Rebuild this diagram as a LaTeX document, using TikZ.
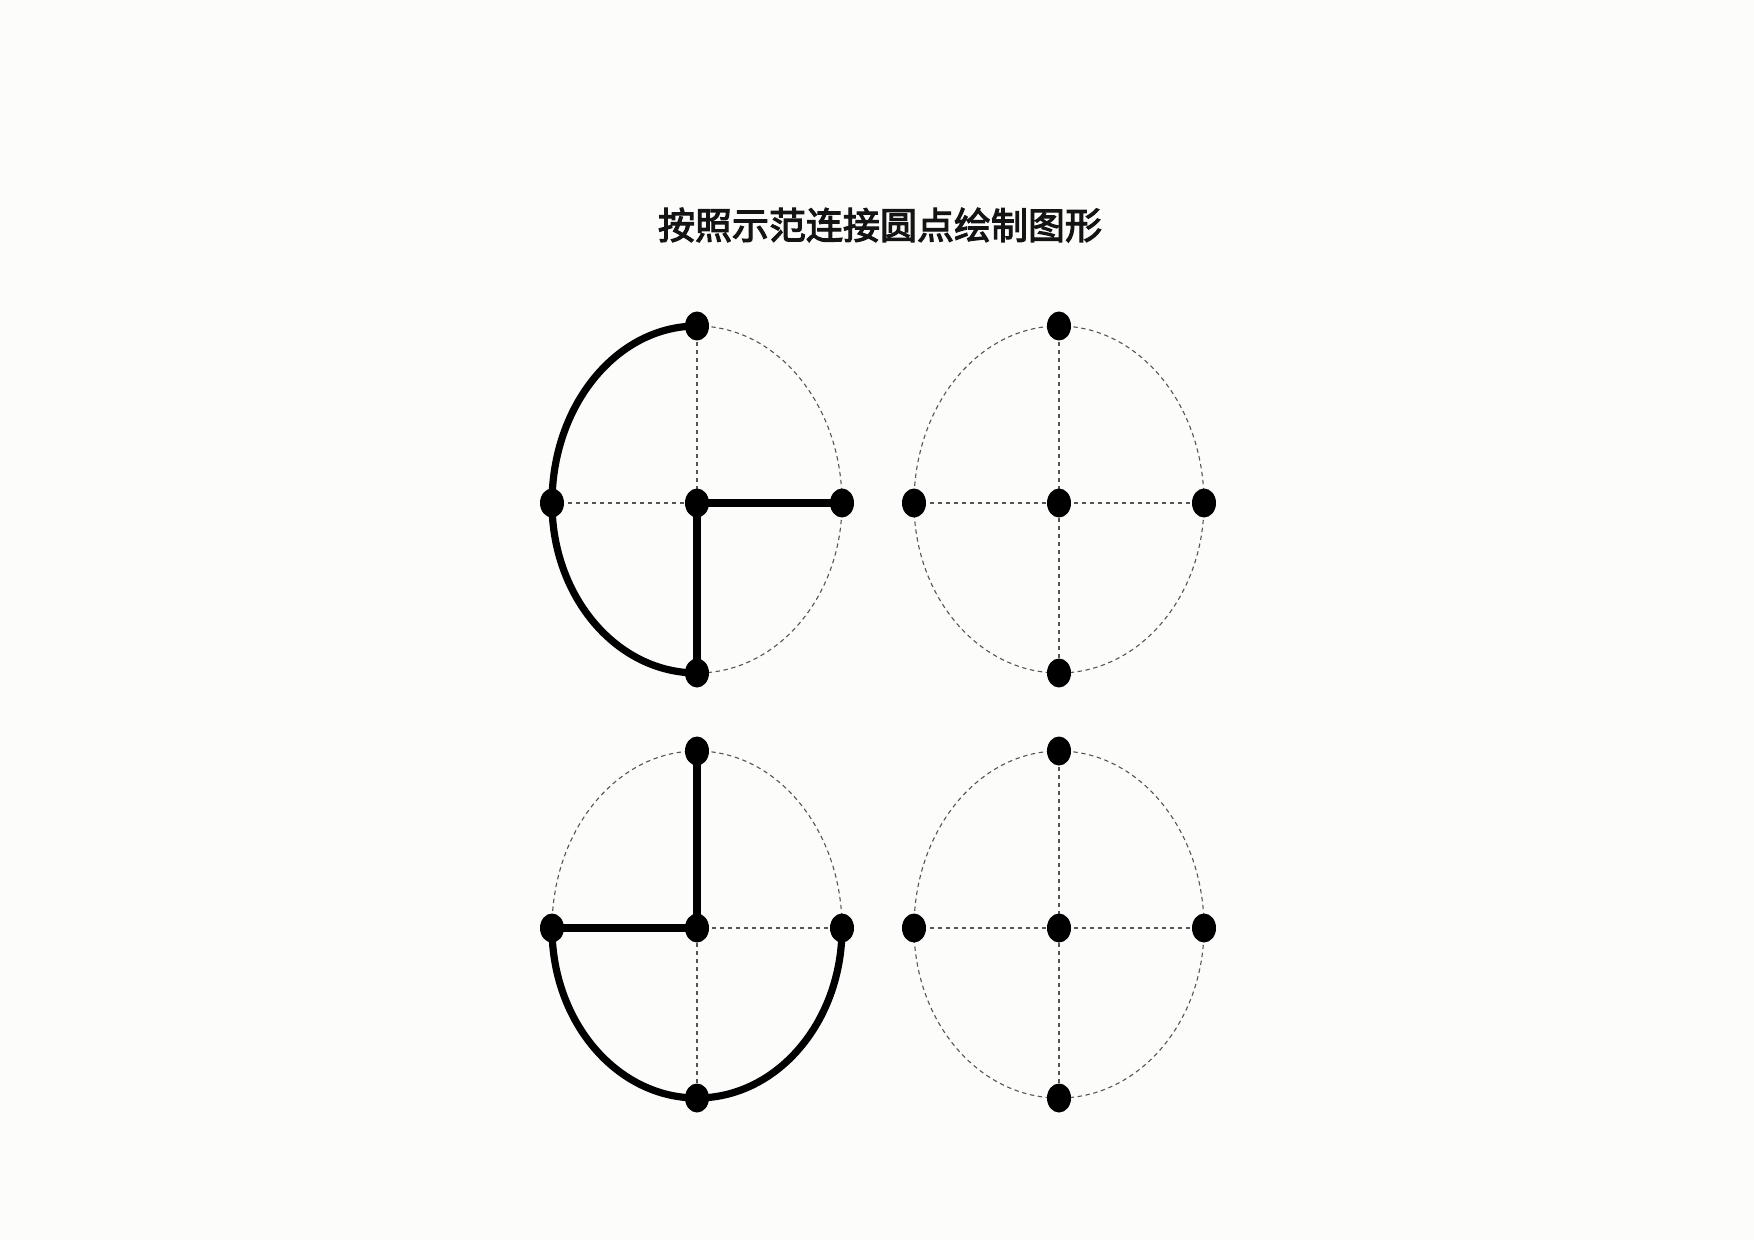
\documentclass[tikz,border=0pt]{standalone}
\usepackage{fontspec}
\usetikzlibrary{shapes.geometric}
\newfontfamily\cjk{Noto Sans CJK SC}[FakeBold=3]
\definecolor{paper}{RGB}{252,252,250}
\definecolor{guidegray}{RGB}{85,85,85}
\definecolor{titleink}{RGB}{20,20,20}
\pgfdeclarelayer{paperlayer}
\pgfdeclarelayer{linelayer}
\pgfsetlayers{paperlayer,linelayer,main}
\begin{document}
\begin{tikzpicture}[x=0.5pt,y=-0.5pt,
  dot/.style={ellipse,fill=black,inner sep=0pt,minimum width=12pt,minimum height=14.5pt},
  guide/.style={draw=guidegray,line width=0.55pt,dash pattern=on 2.2pt off 1.8pt},
  heavy/.style={draw=black,line width=3.6pt,line join=round},
  titlefont/.style={font=\cjk\fontsize{18.5pt}{22pt}\selectfont,text=titleink}]
\useasboundingbox (0,0) rectangle (1754,1240);
\begin{pgfonlayer}{paperlayer}
  \fill[paper] (0,0) rectangle (1754,1240);
\end{pgfonlayer}

\node[titlefont,inner sep=0pt] (title) at (880,225) {按照示范连接圆点绘制图形};

% dots (named nodes)
\foreach \n/\cx/\cy in {A/697/503, B/1059/503, C/697/928, D/1059/928} {
  \node[dot] (\n-c) at (\cx,\cy) {};
  \node[dot] (\n-t) at (\cx,\cy-177) {};
  \node[dot] (\n-b) at (\cx,\cy+170) {};
  \node[dot] (\n-l) at (\cx-145,\cy) {};
  \node[dot] (\n-r) at (\cx+145,\cy) {};
}

\begin{pgfonlayer}{linelayer}
  % dashed guides for every figure
  \foreach \n in {A,B,C,D} {
    \draw[guide] (\n-t.center)
      arc[start angle=270,end angle=180,x radius=145,y radius=177]
      arc[start angle=180,end angle=90,x radius=145,y radius=170]
      arc[start angle=90,end angle=0,x radius=145,y radius=170]
      arc[start angle=0,end angle=-90,x radius=145,y radius=177];
    \draw[guide] (\n-t.center) -- (\n-b.center);
    \draw[guide] (\n-l.center) -- (\n-r.center);
  }
  % example 1 (top left)
  \draw[heavy] (A-t.center)
    arc[start angle=270,end angle=180,x radius=145,y radius=177]
    arc[start angle=180,end angle=90,x radius=145,y radius=170];
  \draw[heavy] (A-c.center) -- (A-r.center);
  \draw[heavy] (A-c.center) -- (A-b.center);
  % example 2 (bottom left)
  \draw[heavy] (C-c.center) -- (C-t.center);
  \draw[heavy] (C-c.center) -- (C-l.center);
  \draw[heavy] (C-l.center)
    arc[start angle=180,end angle=90,x radius=145,y radius=170]
    arc[start angle=90,end angle=0,x radius=145,y radius=170];
\end{pgfonlayer}
\end{tikzpicture}
\end{document}
